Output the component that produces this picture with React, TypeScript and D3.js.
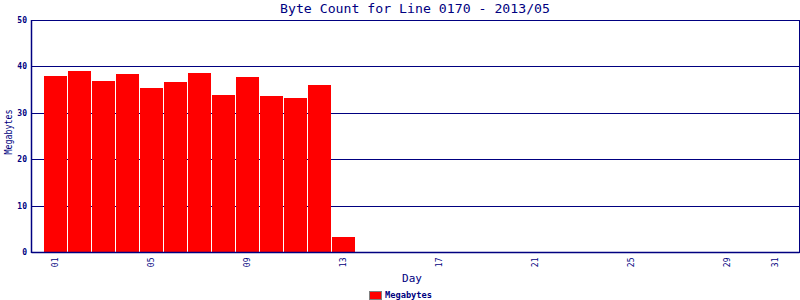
import React from "react";
import * as d3 from "d3";

const days = d3.range(1, 32);
const megabytes = [37.9, 39.0, 36.8, 38.3, 35.3, 36.6, 38.6, 33.8, 37.7, 33.6, 33.2, 36.0, 3.3];
const xTickDays = [1, 5, 9, 13, 17, 21, 25, 29, 31];
const yTicks = [0, 10, 20, 30, 40, 50];
const title = "Byte Count for Line 0170 - 2013/05";

const NAVY = "#000080";
const FONT = "'DejaVu Sans Mono', monospace";

export default function App() {
  const W = 800, H = 300;
  const left = 31, right = 799, top = 20, bottom = 252;
  const x = d3.scaleLinear().domain([0, 32]).range([left + 0.5, right + 0.5]);
  const y = d3.scaleLinear().domain([0, 50]).range([bottom, top]);
  const barW = 23;
  const data = megabytes.map((v, i) => ({ day: days[i], v }));
  const pad = (d: number) => (d < 10 ? "0" + d : String(d));

  return (
    <svg width={W} height={H} style={{ position: "absolute", left: 0, top: 0, display: "block" }}>
      <rect x={0} y={0} width={W} height={H} fill="#fff" />
      {/* grid */}
      {yTicks.map((t) => (
        <line key={"g" + t} x1={left} x2={right} y1={Math.round(y(t)) + 0.5} y2={Math.round(y(t)) + 0.5} stroke={NAVY} strokeWidth={1} />
      ))}
      {/* bars */}
      {data.map((d) => (
        <rect key={d.day} x={x(d.day) - barW / 2} y={Math.round(y(d.v))} width={barW} height={bottom - Math.round(y(d.v))} fill="#ff0000" />
      ))}
      {/* frame */}
      <rect x={left + 0.5} y={top + 0.5} width={right - left} height={bottom - top} fill="none" stroke={NAVY} strokeWidth={1} />
      <line x1={left + 0.5} x2={right + 0.5} y1={bottom + 0.5} y2={bottom + 0.5} stroke={NAVY} strokeWidth={1.5} />
      <line x1={left + 0.5} x2={left + 0.5} y1={top} y2={bottom + 1} stroke={NAVY} strokeWidth={1.5} />
      {/* y tick labels */}
      {yTicks.map((t) => (
        <text key={"yl" + t} x={27} y={Math.round(y(t)) + 0.5} textAnchor="end" dominantBaseline="central" fontFamily={FONT} fontSize={8} fontWeight="bold" fill={NAVY}>
          {t}
        </text>
      ))}
      {/* x tick labels */}
      {xTickDays.map((d) => (
        <text key={"xl" + d} transform={`translate(${x(d)},257.5) rotate(-90)`} textAnchor="end" dominantBaseline="central" fontFamily={FONT} fontSize={8} fill={NAVY}>
          {pad(d)}
        </text>
      ))}
      {/* title */}
      <text x={(left + right) / 2} y={13} textAnchor="middle" fontFamily={FONT} fontSize={12} fill={NAVY} textLength={270} lengthAdjust="spacingAndGlyphs">
        {title}
      </text>
      {/* axis titles */}
      <text x={412} y={282} textAnchor="middle" fontFamily={FONT} fontSize={11} fill={NAVY}>
        Day
      </text>
      <text transform="translate(8,132) rotate(-90)" textAnchor="middle" dominantBaseline="central" fontFamily={FONT} fontSize={11} fill={NAVY} textLength={45} lengthAdjust="spacingAndGlyphs">
        Megabytes
      </text>
      {/* legend */}
      <rect x={369.5} y={291.5} width={12} height={8} fill="#ff0000" stroke="#808080" strokeWidth={1} />
      <text x={385} y={298} fontFamily={FONT} fontSize={8} fontWeight="bold" fill={NAVY} textLength={47} lengthAdjust="spacingAndGlyphs">
        Megabytes
      </text>
    </svg>
  );
}
